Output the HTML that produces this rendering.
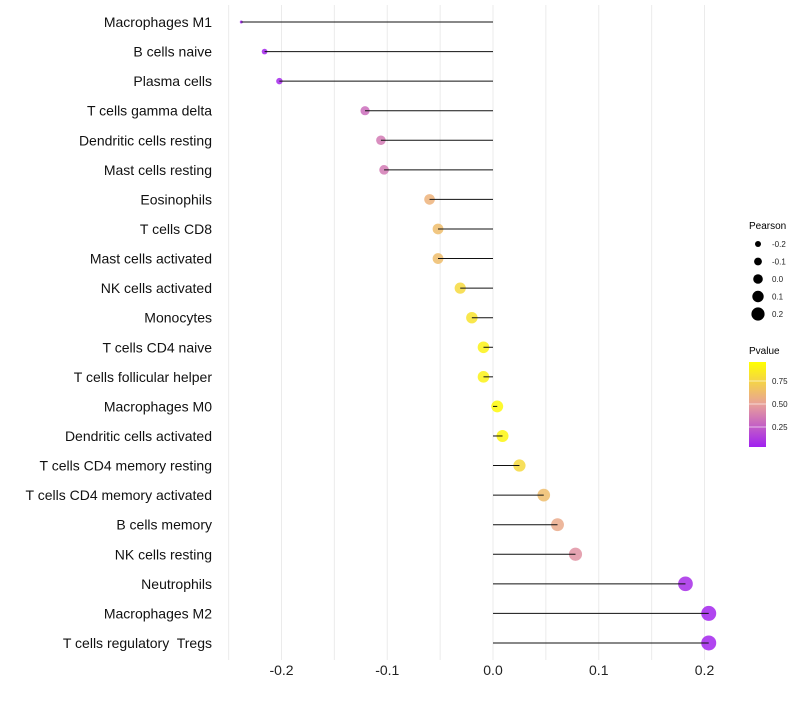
<!DOCTYPE html>
<html><head><meta charset="utf-8"><style>
body{margin:0;background:#fff;font-family:"Liberation Sans",sans-serif}
svg text{font-family:"Liberation Sans",sans-serif}
</style></head><body>
<svg id="chart" width="800" height="700">
<g id="grid"></g>
<g id="marks"></g>
<g id="ylab"></g>
<g id="xlab"></g>
<g>
<text x="749" y="229" font-size="10">Pearson</text>
<g id="sizeLeg"></g>
</g>
<g>
<defs><linearGradient id="pg" x1="0" y1="1" x2="0" y2="0">
<stop offset="0" stop-color="#a020f0"/><stop offset="0.5" stop-color="#e8a09a"/><stop offset="1" stop-color="#ffff00"/></linearGradient></defs>
<text x="749" y="354" font-size="10">Pvalue</text>
<rect x="749" y="362" width="17" height="85" fill="url(#pg)"/>
<g id="colLeg"></g>
</g>
</svg>
<script>
const categories=["Macrophages M1","B cells naive","Plasma cells","T cells gamma delta","Dendritic cells resting","Mast cells resting","Eosinophils","T cells CD8","Mast cells activated","NK cells activated","Monocytes","T cells CD4 naive","T cells follicular helper","Macrophages M0","Dendritic cells activated","T cells CD4 memory resting","T cells CD4 memory activated","B cells memory","NK cells resting","Neutrophils","Macrophages M2","T cells regulatory  Tregs"];
const pearson=[-0.238,-0.216,-0.202,-0.121,-0.106,-0.103,-0.060,-0.052,-0.052,-0.031,-0.020,-0.009,-0.009,0.004,0.009,0.025,0.048,0.061,0.078,0.182,0.204,0.204];
const pvalue=[0.0,0.02,0.03,0.3,0.35,0.35,0.6,0.65,0.65,0.8,0.85,0.93,0.93,0.97,0.95,0.8,0.65,0.55,0.45,0.05,0.02,0.02];
const xTicks=[-0.2,-0.1,0.0,0.1,0.2];
const sizeTicks=[-0.2,-0.1,0.0,0.1,0.2];
const colTicks=[0.25,0.5,0.75];
const NS="http://www.w3.org/2000/svg";
const x=v=>493+v*1057.5;
const y=i=>22+i*29.57;
const r=v=>1.5+6*Math.sqrt(Math.max(0,v+0.238)/0.442);
function lerp(a,b,t){return a.map((c,i)=>Math.round(c+(b[i]-c)*t));}
function col(p){const A=[160,32,240],B=[232,160,154],C=[255,255,0];const c=p<0.5?lerp(A,B,p/0.5):lerp(B,C,(p-0.5)/0.5);return `rgb(${c})`;}
function mk(tag,attrs,parent){const e=document.createElementNS(NS,tag);for(const k in attrs)e.setAttribute(k,attrs[k]);parent.appendChild(e);return e;}
const grid=document.getElementById('grid');
for(let v=-0.25;v<=0.21;v+=0.05){const l=mk('line',{x1:x(v),x2:x(v),y1:5,y2:660,stroke:'#ebebeb','stroke-width':1},grid);

}
const xl=document.getElementById('xlab');
xTicks.forEach(t=>{const e=mk('text',{x:x(t),y:675,'font-size':14,'text-anchor':'middle',fill:'#222'},xl);e.textContent=t.toFixed(1);

});
const marks=document.getElementById('marks'),yl=document.getElementById('ylab');
categories.forEach((c,i)=>{
const d=mk('circle',{cx:x(pearson[i]),cy:y(i),r:r(pearson[i]),fill:col(pvalue[i]),'fill-opacity':0.85},marks);


const l=mk('line',{x1:x(0),x2:x(pearson[i]),y1:y(i),y2:y(i),stroke:'#111','stroke-width':1},marks);


const t=mk('text',{x:212,y:y(i)+5,'font-size':14,'text-anchor':'end',fill:'#111'},yl);t.textContent=c;
t.style.whiteSpace='pre';

});
const sl=document.getElementById('sizeLeg');
sizeTicks.forEach((s,i)=>{const yy=244+i*17.5;
const c=mk('circle',{cx:758,cy:yy,r:3+i*0.9,fill:'#000'},sl);


const t=mk('text',{x:772,y:yy+3,'font-size':8,fill:'#222'},sl);t.textContent=s.toFixed(1);

});
const cl=document.getElementById('colLeg');
colTicks.forEach(p=>{const yy=427-(p-0.25)/0.25*23;
const l=mk('line',{x1:749,x2:766,y1:yy,y2:yy,stroke:'#fff','stroke-opacity':0.6},cl);


const t=mk('text',{x:772,y:yy+3,'font-size':8,fill:'#222'},cl);t.textContent=p.toFixed(2);

});
</script>
</body></html>
